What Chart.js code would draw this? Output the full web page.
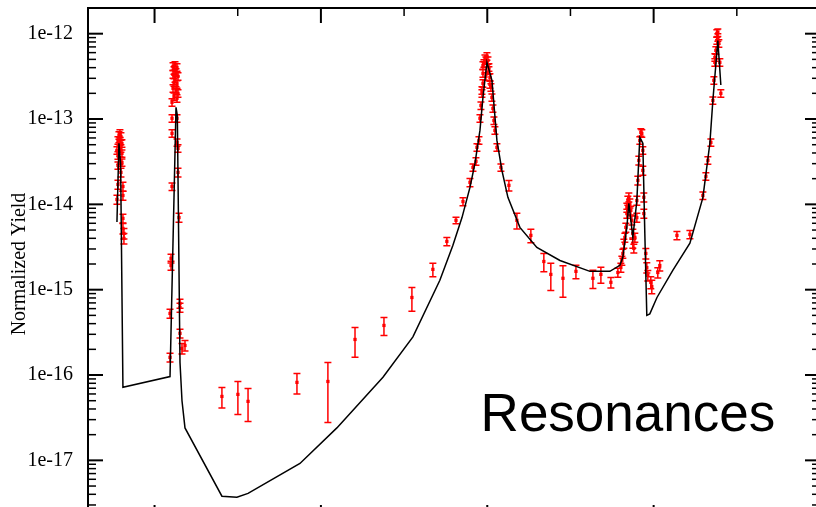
<!DOCTYPE html>
<html>
<head>
<meta charset="utf-8">
<script src="https://cdn.jsdelivr.net/npm/chart.js@4.4.1/dist/chart.umd.min.js"></script>
<style>
  html, body { margin: 0; padding: 0; background: #fff; overflow: hidden; }
  #wrap { width: 840px; height: 540px; }
</style>
</head>
<body>
<div id="wrap"><canvas id="yieldChart" width="840" height="540"></canvas></div>
<script>
// measured yield, error in percent of the value
const measE = [
  // first resonance
  0.774, 0.780, 0.780, 0.786, 0.786, 0.792, 0.792, 0.792, 0.798, 0.798, 0.804, 0.804, 0.804,
  0.780, 0.798, 0.780, 0.810, 0.810, 0.774, 0.810, 0.810, 0.816, 0.816,
  // second resonance
  1.111, 1.123, 1.135, 1.117, 1.129, 1.111, 1.141, 1.123, 1.117, 1.135, 1.111, 1.129, 1.141,
  1.117, 1.135, 1.105, 1.105, 1.135, 1.105, 1.135, 1.141, 1.141, 1.105, 1.147, 1.099, 1.099,
  1.093, 1.153, 1.153, 1.153, 1.165, 1.183, 1.093,
  // valley and broad resonance
  1.405, 1.501, 1.562, 1.856, 2.042, 2.205, 2.379, 2.547, 2.673, 2.757, 2.812, 2.854, 2.896,
  2.914, 2.932, 2.938, 2.950, 2.956, 2.962, 2.968, 2.968, 2.974, 2.974, 2.974, 2.980, 2.986,
  2.992, 2.998, 3.004, 3.010, 3.010, 2.992, 3.016, 3.016, 3.022, 3.028, 3.034, 3.040, 3.046,
  3.058, 3.082, 3.130, 3.178, 3.262, 3.340, 3.382, 3.455, 3.533, 3.635, 3.683, 3.743,
  // doublet
  3.785, 3.803, 3.809, 3.815, 3.821, 3.827, 3.833, 3.839, 3.839, 3.845, 3.851, 3.857, 3.863,
  3.869, 3.875, 3.875, 3.881, 3.887, 3.899, 3.899, 3.905, 3.911, 3.917, 3.923, 3.929, 3.935,
  3.935, 3.941, 3.941, 3.953, 3.959, 3.965, 3.983, 3.989, 4.025, 4.037, 4.140, 4.218,
  // last resonance
  4.296, 4.314, 4.326, 4.344, 4.356, 4.362, 4.368, 4.368, 4.374, 4.380, 4.380, 4.386, 4.386,
  4.392, 4.398, 4.404
];
const measY = [
  4.29e-14, 5.62e-14, 3.75e-14, 6.43e-14, 4.78e-14, 6.79e-14, 5.47e-14, 3.28e-14, 6.26e-14, 4.53e-14, 5.18e-14, 3.95e-14, 3.10e-14,
  2.86e-14, 2.37e-14, 1.71e-14, 1.62e-14, 1.27e-14, 1.14e-14, 6.85e-15, 5.23e-15, 4.57e-15, 3.99e-15,
  4.14e-13, 4.25e-13, 4.03e-13, 3.72e-13, 3.52e-13, 3.34e-13, 3.16e-13, 2.99e-13, 2.69e-13, 2.55e-13, 2.29e-13, 2.17e-13, 2.00e-13,
  1.84e-13, 1.75e-13, 1.57e-13, 1.02e-13, 1.02e-13, 6.79e-14, 5.32e-14, 4.53e-14, 2.37e-14, 1.62e-14, 7.0e-15, 2.33e-15, 1.92e-15,
  5.27e-16, 6.9e-16, 6.2e-16, 3.08e-16, 2.05e-16, 2.22e-16, 1.61e-16,
  5.61e-17, 5.93e-17, 4.91e-17, 8.2e-17, 8.4e-17, 2.61e-16, 3.81e-16, 8.1e-16, 1.73e-15, 3.68e-15, 6.5e-15, 1.08e-14, 1.81e-14,
  2.71e-14, 3.19e-14, 4.65e-14, 5.62e-14, 1.02e-13, 1.44e-13, 2.00e-13, 2.17e-13, 2.62e-13, 3.43e-13, 4.25e-13, 4.49e-13, 5.13e-13,
  4.86e-13, 5.42e-13, 4.86e-13, 4.03e-13, 3.72e-13, 3.16e-13, 3.08e-13, 2.55e-13, 2.35e-13, 1.79e-13, 1.33e-13, 9.6e-14, 7.36e-14,
  4.65e-14, 2.71e-14, 1.67e-14, 6.5e-15, 4.33e-15, 2.14e-15, 1.51e-15, 1.36e-15, 1.64e-15, 1.36e-15, 1.51e-15, 1.22e-15,
  1.59e-15, 1.82e-15, 2.20e-15, 2.66e-15, 3.48e-15, 4.10e-15, 5.37e-15, 7.8e-15, 9.2e-15, 1.11e-14, 1.21e-14, 1.03e-14, 8.5e-15,
  6.5e-15, 4.57e-15, 3.48e-15, 3.05e-15, 4.10e-15, 7.0e-15, 1.11e-14, 1.91e-14, 3.28e-14, 5.62e-14, 6.97e-14, 6.79e-14, 4.29e-14,
  2.50e-14, 1.21e-14, 7.8e-15, 2.66e-15, 1.82e-15, 1.47e-15, 1.22e-15, 1.09e-15, 1.59e-15, 1.92e-15, 4.33e-15, 4.45e-15,
  1.27e-14, 2.13e-14, 3.28e-14, 5.32e-14, 1.65e-13, 2.84e-13, 4.61e-13, 5.28e-13, 6.37e-13, 8.34e-13, 1.01e-12, 1.03e-12, 9.05e-13,
  7.70e-13, 4.61e-13, 2.00e-13
];
const measErr = [
  10, 10, 10, 10, 10, 10, 10, 10, 10, 10, 10, 10, 10,
  10, 12, 12, 12, 12, 12, 12, 14, 14, 14,
  10, 10, 10, 10, 10, 10, 10, 10, 10, 10, 10, 10, 10,
  10, 10, 10, 10, 10, 10, 10, 10, 12, 10, 12, 12, 12,
  12, 12, 12, 12, 14, 14, 12,
  27, 42, 42, 27, 67, 38, 24, 31, 18, 11, 9, 11, 11,
  10, 10, 10, 10, 10, 10, 10, 10, 10, 10, 10, 10, 10,
  10, 10, 10, 10, 10, 10, 10, 10, 10, 10, 10, 10, 10,
  10, 10, 14, 21, 18, 24, 35, 40, 18, 24, 21, 14,
  12, 12, 12, 12, 12, 12, 12, 12, 12, 12, 12, 12, 12,
  12, 12, 12, 12, 12, 12, 12, 12, 12, 10, 10, 10, 10,
  12, 12, 12, 14, 14, 14, 16, 18, 14, 14, 11, 11,
  10, 10, 10, 10, 10, 10, 10, 10, 10, 10, 10, 10, 10,
  10, 10, 10
];

// calculated yield
const calcE = [
  0.774, 0.786, 0.796, 0.810, 1.093, 1.129, 1.137, 1.153, 1.165, 1.183, 1.405, 1.495, 1.562,
  1.874, 2.096, 2.373, 2.553, 2.715, 2.793, 2.848, 2.896, 2.926, 2.956, 2.974, 2.998, 3.028,
  3.058, 3.088, 3.124, 3.196, 3.298, 3.437, 3.617, 3.737, 3.797, 3.815, 3.839, 3.851, 3.875,
  3.899, 3.917, 3.935, 3.947, 3.959, 3.977, 4.020, 4.116, 4.218, 4.296, 4.338, 4.356, 4.386, 4.404
];
const calcY = [
  6.2e-15, 5.2e-14, 3.0e-14, 7.2e-17, 9.6e-17, 1.37e-13, 1.1e-13, 1.4e-16, 5.0e-17, 2.4e-17, 3.8e-18, 3.7e-18, 4.1e-18,
  9.2e-18, 2.4e-17, 9.4e-17, 2.8e-16, 1.29e-15, 3.3e-15, 7.0e-15, 1.58e-14, 3.02e-14, 7.36e-14, 1.79e-13, 4.61e-13, 2.84e-13,
  5.62e-14, 2.5e-14, 1.21e-14, 5.37e-15, 3.13e-15, 2.2e-15, 1.64e-15, 1.64e-15, 1.93e-15, 2.4e-15, 5.4e-15, 1.03e-14, 4.1e-15,
  1.1e-14, 6.1e-14, 5.2e-14, 4.6e-15, 5.0e-16, 5.2e-16, 8.1e-16, 1.7e-15, 3.5e-15, 1.2e-14, 5.2e-14, 1.65e-13, 8.3e-13, 2.5e-13
];

// axis ticks
const decades = [1e-17, 1e-16, 1e-15, 1e-14, 1e-13, 1e-12];
const energyMajor = [1, 2, 3, 4, 5];
const energyMinor = [1.5, 2.5, 3.5, 4.5];

const yMin = 2e-18, yMax = 2e-12;
const yMinor = [];
for (let e = -18; e <= -13; e++) {
  for (let m = 2; m <= 9; m++) {
    const v = m * Math.pow(10, e);
    if (v >= yMin && v <= yMax) yMinor.push(v);
  }
}

const calcPoints = calcE.map((e, i) => ({ x: e, y: calcY[i] }));
const measPoints = measE.map((e, i) => ({ x: e, y: measY[i] }));

// error bars go under the points of the measured set
const errorBars = {
  id: 'errorBars',
  beforeDatasetDraw(chart, args) {
    if (args.index !== 1) return;
    const { ctx, scales: { x, y } } = chart;
    ctx.save();
    ctx.strokeStyle = '#ff0000';
    ctx.lineWidth = 1.5;
    measE.forEach((e, i) => {
      const v = measY[i], d = v * measErr[i] / 100;
      const px = x.getPixelForValue(e);
      const top = y.getPixelForValue(v + d);
      const bot = y.getPixelForValue(Math.max(v - d, yMin));
      ctx.beginPath();
      ctx.moveTo(px, top); ctx.lineTo(px, bot);
      ctx.moveTo(px - 3.5, top); ctx.lineTo(px + 3.5, top);
      ctx.moveTo(px - 3.5, bot); ctx.lineTo(px + 3.5, bot);
      ctx.stroke();
    });
    ctx.restore();
  }
};

// box round the plot with inward ticks on all sides, and the label
const frame = {
  id: 'frame',
  afterDraw(chart) {
    const { ctx, chartArea: a, scales: { x, y } } = chart;
    ctx.save();
    ctx.strokeStyle = '#000';

    const tick = (x1, y1, x2, y2, w) => {
      ctx.lineWidth = w;
      ctx.beginPath(); ctx.moveTo(x1, y1); ctx.lineTo(x2, y2); ctx.stroke();
    };
    decades.forEach(v => {
      const py = y.getPixelForValue(v);
      tick(a.left, py, a.left + 15, py, 2);
      tick(a.right, py, a.right - 15, py, 2);
    });
    yMinor.forEach(v => {
      const py = y.getPixelForValue(v);
      tick(a.left, py, a.left + 8, py, 1.5);
      tick(a.right, py, a.right - 8, py, 1.5);
    });
    energyMajor.forEach(v => {
      const px = x.getPixelForValue(v);
      tick(px, a.top, px, a.top + 15, 2);
      tick(px, a.bottom, px, a.bottom - 15, 2);
    });
    energyMinor.forEach(v => {
      const px = x.getPixelForValue(v);
      tick(px, a.top, px, a.top + 8, 1.5);
      tick(px, a.bottom, px, a.bottom - 8, 1.5);
    });

    ctx.lineWidth = 2;
    ctx.strokeRect(a.left, a.top, a.right - a.left, a.bottom - a.top);

    ctx.fillStyle = '#000';
    ctx.font = '53px "Liberation Sans", Arial, sans-serif';
    ctx.textBaseline = 'alphabetic';
    ctx.fillText('Resonances', x.getPixelForValue(2.96), y.getPixelForValue(2.2e-17));
    ctx.restore();
  }
};

new Chart(document.getElementById('yieldChart'), {
  type: 'scatter',
  data: {
    datasets: [
      {
        label: 'calculated',
        data: calcPoints,
        showLine: true,
        tension: 0,
        borderColor: '#000',
        borderWidth: 1.5,
        pointRadius: 0
      },
      {
        label: 'measured',
        data: measPoints,
        pointStyle: 'rect',
        pointRadius: 2.3,
        backgroundColor: '#ff0000',
        borderWidth: 0
      }
    ]
  },
  options: {
    responsive: false,
    animation: false,
    layout: { padding: { top: 8, right: 20, bottom: 20, left: 0 } },
    plugins: { legend: { display: false }, tooltip: { enabled: false } },
    scales: {
      x: {
        type: 'linear',
        min: 0.6,
        max: 5.0,
        display: false
      },
      y: {
        type: 'logarithmic',
        min: yMin,
        max: yMax,
        grid: { display: false },
        border: { display: false },
        afterBuildTicks: s => { s.ticks = decades.map(v => ({ value: v })); },
        afterFit: s => { s.width = 88; s.paddingTop = 0; s.paddingBottom = 0; },
        ticks: {
          padding: 7,
          color: '#000',
          font: { family: '"Liberation Serif", "Times New Roman", serif', size: 20 },
          callback: v => '1e' + Math.round(Math.log10(v))
        },
        title: {
          display: true,
          text: 'Normalized Yield',
          color: '#000',
          padding: { top: 8, bottom: 0 },
          font: { family: '"Liberation Serif", "Times New Roman", serif', size: 20 }
        }
      }
    }
  },
  plugins: [errorBars, frame]
});
</script>
</body>
</html>
